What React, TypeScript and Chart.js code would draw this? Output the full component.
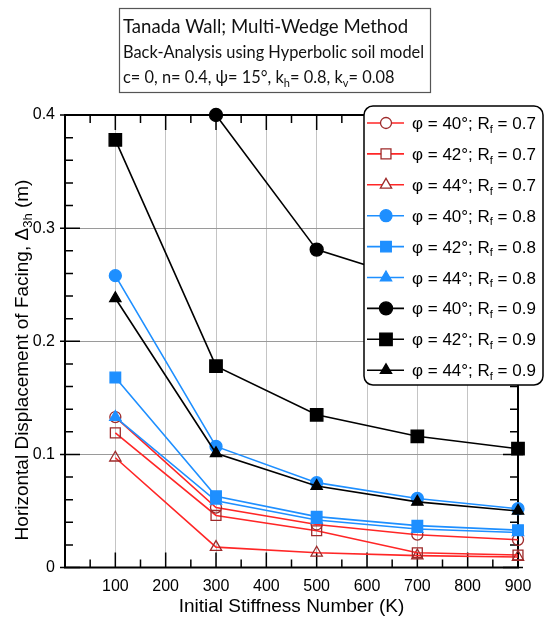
import React, { useEffect, useRef } from "react";
import { Chart, registerables } from "chart.js";

Chart.register(...registerables);

// Initial stiffness number K
const stiffness = [100, 300, 500, 700, 900];

// Horizontal displacement of facing (m)
const phi40Rf07 = [0.133, 0.053, 0.038, 0.029, 0.0245];
const phi42Rf07 = [0.119, 0.046, 0.0325, 0.013, 0.011];
const phi44Rf07 = [0.097, 0.018, 0.013, 0.0105, 0.0093];
const phi40Rf08 = [0.258, 0.107, 0.075, 0.061, 0.052];
const phi42Rf08 = [0.168, 0.063, 0.045, 0.037, 0.033];
const phi44Rf08 = [0.133, 0.059, 0.042, 0.034, 0.031];
const phi40Rf09 = [null, 0.4, 0.281, 0.253, 0.234];
const phi42Rf09 = [0.378, 0.178, 0.135, 0.116, 0.105];
const phi44Rf09 = [0.238, 0.101, 0.072, 0.058, 0.05];

const phiLabels = ["40", "42", "44"];
const rfLabels = ["0.7", "0.8", "0.9"];

const RED = "#ff2626";
const DARKRED = "#9e2a2a";
const BLUE = "#1e8fff";
const BLACK = "#000000";
const SANS = "'Liberation Sans', Arial, sans-serif";
const TITLE_FONT = "Lato, 'Open Sans', sans-serif";

type Shape = "circle" | "rect" | "triangle";
type Part = { t: string; sub?: boolean };

const series = [
  { data: phi40Rf07, phi: 0, rf: 0, shape: "circle", line: RED, stroke: DARKRED, fill: "rgba(0,0,0,0)", r: 5.5, order: 3 },
  { data: phi42Rf07, phi: 1, rf: 0, shape: "rect", line: RED, stroke: DARKRED, fill: "rgba(0,0,0,0)", r: 7, order: 3 },
  { data: phi44Rf07, phi: 2, rf: 0, shape: "triangle", line: RED, stroke: DARKRED, fill: "rgba(0,0,0,0)", r: 6.5, order: 3 },
  { data: phi40Rf08, phi: 0, rf: 1, shape: "circle", line: BLUE, stroke: BLUE, fill: BLUE, r: 6, order: 2 },
  { data: phi42Rf08, phi: 1, rf: 1, shape: "rect", line: BLUE, stroke: BLUE, fill: BLUE, r: 7.5, order: 2 },
  { data: phi44Rf08, phi: 2, rf: 1, shape: "triangle", line: BLUE, stroke: BLUE, fill: BLUE, r: 6.5, order: 2 },
  { data: phi40Rf09, phi: 0, rf: 2, shape: "circle", line: BLACK, stroke: BLACK, fill: BLACK, r: 6.5, order: 1 },
  { data: phi42Rf09, phi: 1, rf: 2, shape: "rect", line: BLACK, stroke: BLACK, fill: BLACK, r: 8.8, order: 1 },
  { data: phi44Rf09, phi: 2, rf: 2, shape: "triangle", line: BLACK, stroke: BLACK, fill: BLACK, r: 6.5, order: 1 },
];

function drawRich(ctx: CanvasRenderingContext2D, parts: Part[], x: number, y: number, size: number, family: string, center = false) {
  const fontFor = (p: Part) => `${p.sub ? Math.round(size * 0.66) : size}px ${family}`;
  let total = 0;
  for (const p of parts) {
    ctx.font = fontFor(p);
    total += ctx.measureText(p.t).width;
  }
  let cx = center ? x - total / 2 : x;
  ctx.textAlign = "left";
  ctx.textBaseline = "alphabetic";
  for (const p of parts) {
    ctx.font = fontFor(p);
    ctx.fillText(p.t, cx, p.sub ? y + size * 0.22 : y);
    cx += ctx.measureText(p.t).width;
  }
}

function drawMarker(ctx: CanvasRenderingContext2D, shape: Shape, x: number, y: number, r: number, fill: string, stroke: string) {
  ctx.beginPath();
  if (shape === "circle") {
    ctx.arc(x, y, r, 0, Math.PI * 2);
  } else if (shape === "rect") {
    const s = r * Math.SQRT1_2;
    ctx.rect(x - s, y - s, 2 * s, 2 * s);
  } else {
    ctx.moveTo(x, y - r);
    ctx.lineTo(x + r * Math.sin((2 * Math.PI) / 3), y - r * Math.cos((2 * Math.PI) / 3));
    ctx.lineTo(x + r * Math.sin((4 * Math.PI) / 3), y - r * Math.cos((4 * Math.PI) / 3));
    ctx.closePath();
  }
  ctx.fillStyle = fill;
  ctx.fill();
  ctx.lineWidth = 1.3;
  ctx.strokeStyle = stroke;
  ctx.stroke();
}

const framePlugin = {
  id: "frame",
  beforeDatasetsDraw(chart: any) {
    const { ctx, chartArea: a, scales } = chart;
    const xs = scales.x;
    const ys = scales.y;
    ctx.save();
    ctx.strokeStyle = "#000";
    ctx.lineWidth = 1.5;
    ctx.beginPath();
    for (let k = 0; k <= 900; k += 50) {
      const px = xs.getPixelForValue(k);
      const len = k % 100 === 0 ? 15 : 8;
      ctx.moveTo(px, a.bottom);
      ctx.lineTo(px, a.bottom - len);
      ctx.moveTo(px, a.top);
      ctx.lineTo(px, a.top + len);
    }
    for (let i = 0; i <= 20; i++) {
      const py = ys.getPixelForValue(i * 0.02);
      if (i % 5 === 0) {
        ctx.moveTo(a.left - 5, py);
        ctx.lineTo(a.left + 15, py);
        ctx.moveTo(a.right + 5, py);
        ctx.lineTo(a.right - 15, py);
      } else {
        ctx.moveTo(a.left, py);
        ctx.lineTo(a.left + 8, py);
        ctx.moveTo(a.right, py);
        ctx.lineTo(a.right - 8, py);
      }
    }
    ctx.stroke();
    ctx.lineWidth = 2;
    ctx.strokeRect(a.left, a.top, a.right - a.left, a.bottom - a.top);
    ctx.restore();
  },
  afterDraw(chart: any) {
    const { ctx, chartArea: a } = chart;
    ctx.save();
    ctx.fillStyle = "#000";

    // axis titles
    drawRich(ctx, [{ t: "Initial Stiffness Number (K)" }], (a.left + a.right) / 2, 612, 19, SANS, true);
    ctx.save();
    ctx.translate(28, 360);
    ctx.rotate(-Math.PI / 2);
    ctx.fillStyle = "#000";
    drawRich(
      ctx,
      [{ t: "Horizontal Displacement of Facing, \u0394" }, { t: "3h", sub: true }, { t: " (m)" }],
      0,
      0,
      19,
      SANS,
      true
    );
    ctx.restore();

    // title box
    ctx.fillStyle = "#fff";
    ctx.fillRect(119, 8, 311, 84);
    ctx.strokeStyle = "#555";
    ctx.lineWidth = 1.2;
    ctx.strokeRect(119.5, 8.5, 311, 84);
    ctx.fillStyle = "#111";
    drawRich(ctx, [{ t: "Tanada Wall; Multi-Wedge Method" }], 123, 33, 18.6, TITLE_FONT);
    drawRich(ctx, [{ t: "Back-Analysis using Hyperbolic soil model" }], 123, 58, 16.4, TITLE_FONT);
    drawRich(
      ctx,
      [
        { t: "c= 0, n= 0.4, \u03c8= 15\u00b0, k" },
        { t: "h", sub: true },
        { t: "= 0.8, k" },
        { t: "v", sub: true },
        { t: "= 0.08" },
      ],
      123,
      83,
      16.4,
      TITLE_FONT
    );

    // legend box
    const lx = 364, ly = 106, lw = 179, lh = 279, rad = 9;
    ctx.beginPath();
    ctx.moveTo(lx + rad, ly);
    ctx.arcTo(lx + lw, ly, lx + lw, ly + lh, rad);
    ctx.arcTo(lx + lw, ly + lh, lx, ly + lh, rad);
    ctx.arcTo(lx, ly + lh, lx, ly, rad);
    ctx.arcTo(lx, ly, lx + lw, ly, rad);
    ctx.closePath();
    ctx.fillStyle = "#fff";
    ctx.fill();
    ctx.strokeStyle = "#000";
    ctx.lineWidth = 1.5;
    ctx.stroke();

    series.forEach((s, i) => {
      const cy = 123 + i * 30.9;
      ctx.strokeStyle = s.line;
      ctx.lineWidth = 1.6;
      ctx.beginPath();
      ctx.moveTo(367, cy);
      ctx.lineTo(404, cy);
      ctx.stroke();
      const fill = s.fill === "rgba(0,0,0,0)" ? "#fff" : s.fill;
      drawMarker(ctx, s.shape as Shape, 386, cy, s.r, fill, s.stroke);
      ctx.fillStyle = "#000";
      drawRich(
        ctx,
        [{ t: `\u03c6 = ${phiLabels[s.phi]}\u00b0; R` }, { t: "f", sub: true }, { t: ` = ${rfLabels[s.rf]}` }],
        412,
        cy + 6,
        17,
        SANS
      );
    });
    ctx.restore();
  },
};

export default function App() {
  const canvasRef = useRef<HTMLCanvasElement>(null);

  useEffect(() => {
    const ctx = canvasRef.current?.getContext("2d");
    if (!ctx) return;

    const chart = new Chart(ctx, {
      type: "line",
      data: {
        datasets: series.map((s) => ({
          label: `phi ${phiLabels[s.phi]} Rf ${rfLabels[s.rf]}`,
          data: stiffness.map((k, i) => ({ x: k, y: s.data[i] })),
          borderColor: s.line,
          borderWidth: 1.6,
          pointStyle: s.shape,
          pointRadius: s.r,
          pointBackgroundColor: s.fill,
          pointBorderColor: s.stroke,
          pointBorderWidth: 1.3,
          spanGaps: false,
          clip: false,
          order: s.order,
          tension: 0,
        })) as any,
      },
      options: {
        animation: false,
        responsive: true,
        maintainAspectRatio: false,
        layout: { padding: { top: 115, right: 32, left: 0, bottom: 0 } },
        plugins: { legend: { display: false }, tooltip: { enabled: false } },
        scales: {
          x: {
            type: "linear",
            min: 0,
            max: 900,
            afterFit: (scale: any) => {
              scale.height = 55.5;
            },
            ticks: {
              stepSize: 100,
              color: "#000",
              padding: 9,
              font: { family: SANS, size: 16 },
              callback: (v: any) => (v === 0 ? "" : String(v)),
            },
            grid: { color: "#c4c4c4", lineWidth: 1, drawTicks: false },
            border: { display: false },
          },
          y: {
            min: 0,
            max: 0.4,
            afterFit: (scale: any) => {
              scale.width = 65;
            },
            ticks: {
              stepSize: 0.1,
              color: "#000",
              padding: 10,
              font: { family: SANS, size: 16 },
              callback: (v: any) => (Math.abs(v) < 1e-9 ? "0" : Number(v).toFixed(1)),
            },
            grid: { color: "#9a9a9a", lineWidth: 1, drawTicks: false },
            border: { display: false },
          },
        },
      },
      plugins: [framePlugin],
    });

    return () => {
      chart.destroy();
    };
  }, []);

  return (
    <div style={{ position: "fixed", left: 0, top: 0, width: 550, height: 623, background: "#fff" }}>
      <canvas ref={canvasRef} />
    </div>
  );
}
